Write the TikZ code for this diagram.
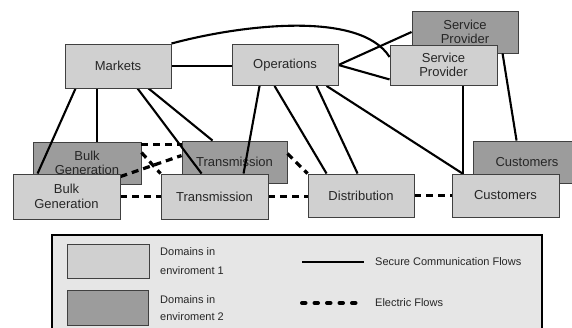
\documentclass[tikz,border=0pt]{standalone}
\usepackage{fontspec}
\setmainfont{Liberation Sans}
\usetikzlibrary{calc}
\definecolor{lightdom}{HTML}{D0D0D0}
\definecolor{darkdom}{HTML}{9C9C9C}
\definecolor{legendbg}{HTML}{E6E6E6}
\definecolor{boxline}{HTML}{404040}
\tikzset{
  dom/.style={draw=boxline, line width=0.9pt, inner sep=0pt, align=center,
    minimum width=106pt, minimum height=43pt, font=\fontsize{13}{14.5}\selectfont, text=black!85},
  ldom/.style={dom, fill=lightdom},
  ddom/.style={dom, fill=darkdom},
  comm/.style={line width=2.1pt, black},
  elec/.style={line width=3.2pt, black, dash pattern=on 7pt off 5pt},
  legtext/.style={anchor=west, inner sep=0pt, font=\fontsize{11}{12}\selectfont, text=black!85}
}
\begin{document}
\begin{tikzpicture}[x=1pt,y=-1pt]
\useasboundingbox (0,0) rectangle (572,328);
\clip (0,0) rectangle (572,328);
\fill[white] (0,0) rectangle (572,328);
% dark domains (environment 2)
\node[ddom, minimum width=106pt, minimum height=42pt] (spd) at (465,32) {Service\\Provider};
\node[ddom, minimum width=108pt, minimum height=42pt] (bgd) at (87,163) {Bulk\\Generation};
\node[ddom, minimum width=105pt, minimum height=42pt] (trd) at (234.5,162) {Transmission};
\node[ddom, minimum width=108pt, minimum height=42pt] (cusd) at (527,162) {Customers};
% light-domain positions (boxes drawn later, above the connectors)
\path (118,66) coordinate (cmk) (285,65) coordinate (cop) (443.5,65) coordinate (csp)
      (66.5,196.5) coordinate (cbg) (214.5,196.5) coordinate (ctr)
      (361,195.5) coordinate (cdi) (505.5,195.5) coordinate (ccu);
\path node[dom, draw=none, minimum width=106pt, minimum height=44pt] (markets) at (cmk) {}
      node[dom, draw=none, minimum width=106pt, minimum height=41pt] (ops) at (cop) {}
      node[dom, draw=none, minimum width=107pt, minimum height=40pt] (spl) at (csp) {}
      node[dom, draw=none, minimum width=107pt, minimum height=45pt] (bgl) at (cbg) {}
      node[dom, draw=none, minimum width=107pt, minimum height=45pt] (trl) at (ctr) {}
      node[dom, draw=none, minimum width=106pt, minimum height=43pt] (dist) at (cdi) {}
      node[dom, draw=none, minimum width=107pt, minimum height=43pt] (cusl) at (ccu) {};
% secure communication flows
\draw[comm] (markets.north east) .. controls (240,25) and (360,10) .. (spl.west |- 0,57);
\draw[comm] (markets.east) -- (markets.east -| ops.west);
\draw[comm] (ops.east) -- (spd.west);
\draw[comm] (ops.east) -- ($(spl.south west)+(0,-6)$);
\draw[comm] ($(markets.south west)+(11,0)$) -- ($(bgl.north west)+(25,0)$);
\draw[comm] ($(markets.south west)+(32,0)$) coordinate (m2) -- (m2 |- bgd.north);
\draw[comm] ($(markets.south west)+(73,0)$) -- ($(trl.north west)+(41,0)$);
\draw[comm] ($(markets.south west)+(84,0)$) -- ($(trd.north west)+(31,0)$);
\draw[comm] ($(ops.south west)+(28,0)$) -- ($(trl.north west)+(83,0)$);
\draw[comm] ($(ops.south west)+(43,0)$) -- ($(dist.north west)+(19,0)$);
\draw[comm] ($(ops.south west)+(85,0)$) -- ($(dist.north west)+(50,0)$);
\draw[comm] ($(ops.south west)+(95,0)$) -- ($(cusl.north west)+(11,0)$);
\draw[comm] ($(spl.south west)+(73,0)$) coordinate (s2) -- (s2 |- cusl.north);
\draw[comm] ($(spd.south west)+(91,0)$) -- ($(cusd.north west)+(44,0)$);
% electric flows
\draw[elec] ($(bgd.north east)+(0,3)$) coordinate (e1) -- (e1 -| trd.west);
\draw[elec] ($(bgd.north east)+(0,11)$) -- (trl.north west);
\draw[elec] ($(bgl.north east)+(0,3)$) -- ($(trd.north west)+(0,15)$);
\draw[elec] (bgl.east) -- (bgl.east -| trl.west);
\draw[elec] (trl.east) -- (trl.east -| dist.west);
\draw[elec] ($(trd.north east)+(0,13)$) -- (dist.north west);
\draw[elec] (dist.east) -- (dist.east -| cusl.west);
% light domains (environment 1)
\node[ldom, minimum width=106pt, minimum height=44pt] at (cmk) {Markets};
\node[ldom, minimum width=106pt, minimum height=41pt] at (cop) {Operations};
\node[ldom, minimum width=107pt, minimum height=40pt] at (csp) {Service\\Provider};
\node[ldom, minimum width=107pt, minimum height=45pt] at (cbg) {Bulk\\Generation};
\node[ldom, minimum width=107pt, minimum height=45pt] at (ctr) {Transmission};
\node[ldom, minimum width=106pt, minimum height=43pt] at (cdi) {Distribution};
\node[ldom, minimum width=107pt, minimum height=43pt] at (ccu) {Customers};
% legend
\draw[line width=2pt, fill=legendbg] (51.5,235.5) rectangle (542,345) ;
\node[draw=boxline, line width=0.9pt, fill=lightdom, minimum width=82pt, minimum height=34pt, inner sep=0pt] (sw1) at (108,261) {};
\node[draw=boxline, line width=0.9pt, fill=darkdom, minimum width=81pt, minimum height=35pt, inner sep=0pt] (sw2) at (107.5,307.5) {};
\node[legtext] (t1) at (160,252) {Domains in};
\node[legtext] (t2) at (160,271) {enviroment 1};
\node[legtext] (t3) at (160,300) {Domains in};
\node[legtext] (t4) at (160,317) {enviroment 2};
\coordinate (l1a) at (302,262);
\coordinate (l1b) at (364,262);
\coordinate (l2a) at (302,303);
\coordinate (l2b) at (364,303);
\draw[comm] (l1a) -- (l1b);
\draw[line width=4pt, line cap=round, dash pattern=on 3.5pt off 9pt] (l2a) -- (l2b);
\node[legtext] (t5) at (375,262) {Secure Communication Flows};
\node[legtext] (t6) at (375,303) {Electric Flows};
\end{tikzpicture}
\end{document}
